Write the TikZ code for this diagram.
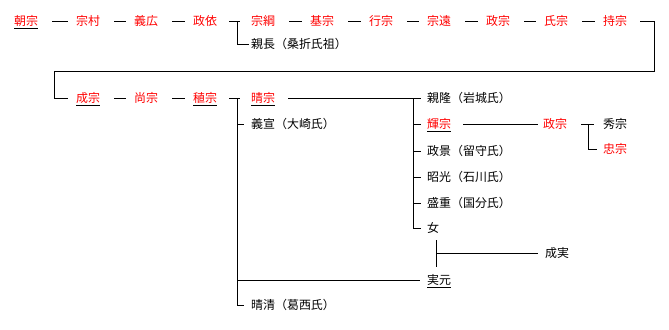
\documentclass[tikz,border=0pt]{standalone}
\usepackage{fontspec}
\setmainfont{Noto Sans CJK JP}
\usetikzlibrary{calc}
\newcommand{\heir}[1]{\underline{\textcolor{red}{#1}}}

\begin{document}
\begin{tikzpicture}[x=0.03cm, y=-0.03cm,
  kin/.style={anchor=west, inner sep=0pt, text height=0.88em, text depth=0.12em,
    font=\fontsize{10.2pt}{12pt}\selectfont},
  lord/.style={kin, text=red},
  link/.style={line width=0.8pt},
  bar/.style={link, shorten <=0.42cm, shorten >=0.24cm}]
  \useasboundingbox (0,0) rectangle (669,329);

  \node[kin] (tomomune) at (14,21) {\heir{朝宗}};
  \node[lord] (munemura) at (76,21) {宗村};
  \node[lord] (yoshihiro) at (134,21) {義広};
  \node[lord] (masayori) at (193,21) {政依};
  \node[lord] (munetsuna) at (251,21) {宗綱};
  \node[lord] (motomune) at (310,21) {基宗};
  \node[lord] (yukimune) at (369,21) {行宗};
  \node[lord] (munetoo) at (427,21) {宗遠};
  \node[lord] (masamune1) at (486,21) {政宗};
  \node[lord] (ujimune) at (544,21) {氏宗};
  \node[lord] (mochimune) at (603,21) {持宗};
  \node[kin] (chikanaga) at (251,44) {親長（桑折氏祖）};

  \node[kin] (shigemune) at (76,98) {\heir{成宗}};
  \node[lord] (hisamune) at (134,98) {尚宗};
  \node[kin] (tanemune) at (193,98) {\heir{稙宗}};
  \node[kin] (harumune) at (251,98) {\heir{晴宗}};
  \node[kin] (yoshinori) at (251,124) {義宣（大崎氏）};
  \node[kin] (harukiyo) at (251,305) {晴清（葛西氏）};

  \node[kin] (chikataka) at (427,98) {親隆（岩城氏）};
  \node[kin] (terumune) at (427,124) {\heir{輝宗}};
  \node[kin] (masakage) at (427,151) {政景（留守氏）};
  \node[kin] (akimitsu) at (427,177) {昭光（石川氏）};
  \node[kin] (morishige) at (427,203) {盛重（国分氏）};
  \node[kin] (nyo) at (427,228) {女};
  \node[kin] (sanemoto) at (427,280) {\underline{実元}};
  \node[kin] (narizane) at (545,253) {成実};

  \node[lord] (masamune2) at (543,124) {政宗};
  \node[kin] (hidemune) at (603,124) {秀宗};
  \node[lord] (tadamune) at (603,149) {忠宗};

  \coordinate (j1) at (237,21);
  \coordinate (j2) at (237,98);
  \coordinate (j3) at (413,98);
  \coordinate (j4) at (588,124);
  \coordinate (turnA) at (654,71);
  \coordinate (turnB) at (54,98);
  \coordinate (wed) at (436,253);

  \foreach \a/\b in {tomomune/munemura, munemura/yoshihiro, yoshihiro/masayori,
    munetsuna/motomune, motomune/yukimune, yukimune/munetoo, munetoo/masamune1,
    masamune1/ujimune, ujimune/mochimune, shigemune/hisamune, hisamune/tanemune}
    \draw[bar] (\a) -- (\b);

  \draw[link, shorten <=0.36cm, shorten >=0.33cm] (masayori) -- (munetsuna);
  \draw[link, shorten >=0.06cm] (j1) |- (chikanaga);
  \draw[link, shorten <=0.39cm, shorten >=0.24cm] (mochimune) -| (turnA) -| (turnB) -- (shigemune);

  \draw[link, shorten <=0.36cm, shorten >=0.33cm] (tanemune) -- (harumune);
  \draw[link, shorten >=0.21cm] (j2) |- (harukiyo);
  \draw[link, shorten >=0.21cm] (j2 |- yoshinori) -- (yoshinori);
  \draw[link, shorten >=0.21cm] (j2 |- sanemoto) -- (sanemoto);

  \draw[link, shorten <=0.39cm, shorten >=0.18cm] (harumune) -- (chikataka);
  \draw[link, shorten >=0.18cm] (j3) |- (nyo);
  \foreach \c in {terumune, masakage, akimitsu, morishige}
    \draw[link, shorten >=0.18cm] (j3 |- \c) -- (\c);

  \draw[link, shorten <=0.36cm, shorten >=0.15cm] (terumune) -- (masamune2);
  \draw[link, shorten <=0.42cm, shorten >=0.27cm] (masamune2) -- (hidemune);
  \draw[link, shorten >=0.18cm] (j4) |- (tadamune);

  \draw[link, shorten <=0.18cm, shorten >=0.2cm] (wed |- nyo.south) -- (wed |- sanemoto.north);
  \draw[link, shorten >=0.21cm] (wed) -- (narizane);
\end{tikzpicture}
\end{document}
